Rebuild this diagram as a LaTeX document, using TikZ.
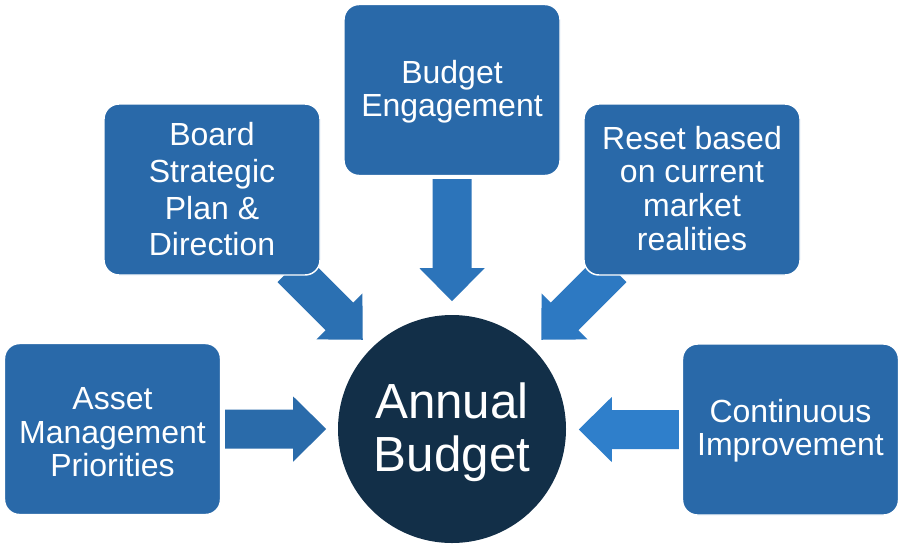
\documentclass[tikz,border=0pt]{standalone}
\usepackage{fontspec}
\setmainfont{Liberation Sans}
\usetikzlibrary{calc,backgrounds}
\definecolor{boxblue}{HTML}{2969A9}
\definecolor{navy}{HTML}{122F48}
\definecolor{arrA}{HTML}{2A6BAA}
\definecolor{arrB}{HTML}{2B70B2}
\definecolor{arrC}{HTML}{2C74BA}
\definecolor{arrD}{HTML}{2D79C2}
\definecolor{arrE}{HTML}{2F7FCB}
\begin{document}
\begin{tikzpicture}[x=0.75pt,y=-0.75pt,
  box/.style={rectangle, rounded corners=11.25pt, fill=boxblue, draw=white, line width=1.1pt,
    minimum width=162pt, minimum height=128.25pt, inner sep=0pt},
  boxtext/.style={text=white, align=center, inner sep=0pt},
  pics/blockarrow/.style={code={
    \fill[pic actions] (0,-19.5) -- ({#1-33},-19.5) -- ({#1-33},-32.5) -- (#1,0)
      -- ({#1-33},32.5) -- ({#1-33},19.5) -- (0,19.5) -- cycle;}}
]
\useasboundingbox (0,0) rectangle (898,544);

% boxes
\node[box] (Asset) at (112.5,429) {};
\node[box] (Board) at (212,189.5) {};
\node[box] (BE) at (452,90) {};
\node[box] (Reset) at (692,189.5) {};
\node[box] (Cont) at (790.5,429.5) {};
\node[circle, fill=navy, minimum size=171pt, inner sep=0pt] (AB) at (452,429) {};

% arrows behind
\begin{scope}[on background layer]
\fill[white] (0,0) rectangle (898,544);
\pic[fill=arrA] at ($(Asset.east)+(4,0)$) {blockarrow=101};
\pic[fill=arrB, rotate=-45] at ($(Board.south east)+(-29.4,-7.4)$) {blockarrow=101};
\pic[fill=arrC, rotate=-90] at ($(BE.south)+(0,3)$) {blockarrow=122};
\pic[fill=arrD, rotate=-135] at ($(Reset.south west)+(29.4,-7.4)$) {blockarrow=101};
\pic[fill=arrE, rotate=180] at ($(Cont.west)+(-3,0)$) {blockarrow=100};
\end{scope}

% texts
\node[boxtext, font=\fontsize{24}{25.1}\selectfont] (tAsset) at ([yshift=-2.5pt]Asset.center) {Asset\\Management\\Priorities};
\node[boxtext, font=\fontsize{24}{27.5}\selectfont] (tBoard) at (Board.center) {Board\\Strategic\\Plan \&\\Direction};
\node[boxtext, font=\fontsize{24}{24.75}\selectfont] (tBE) at ([yshift=-1.5pt]BE.center) {Budget\\Engagement};
\node[boxtext, font=\fontsize{24}{25.3}\selectfont] (tReset) at ([yshift=1pt]Reset.center) {Reset based\\on current\\market\\realities};
\node[boxtext, font=\fontsize{24}{24.75}\selectfont] (tCont) at ([yshift=-1.2pt]Cont.center) {Continuous\\Improvement};
\node[boxtext, font=\fontsize{37}{39.75}\selectfont] (tAB) at ([yshift=-2.2pt]AB.center) {Annual\\Budget};
\end{tikzpicture}
\end{document}
